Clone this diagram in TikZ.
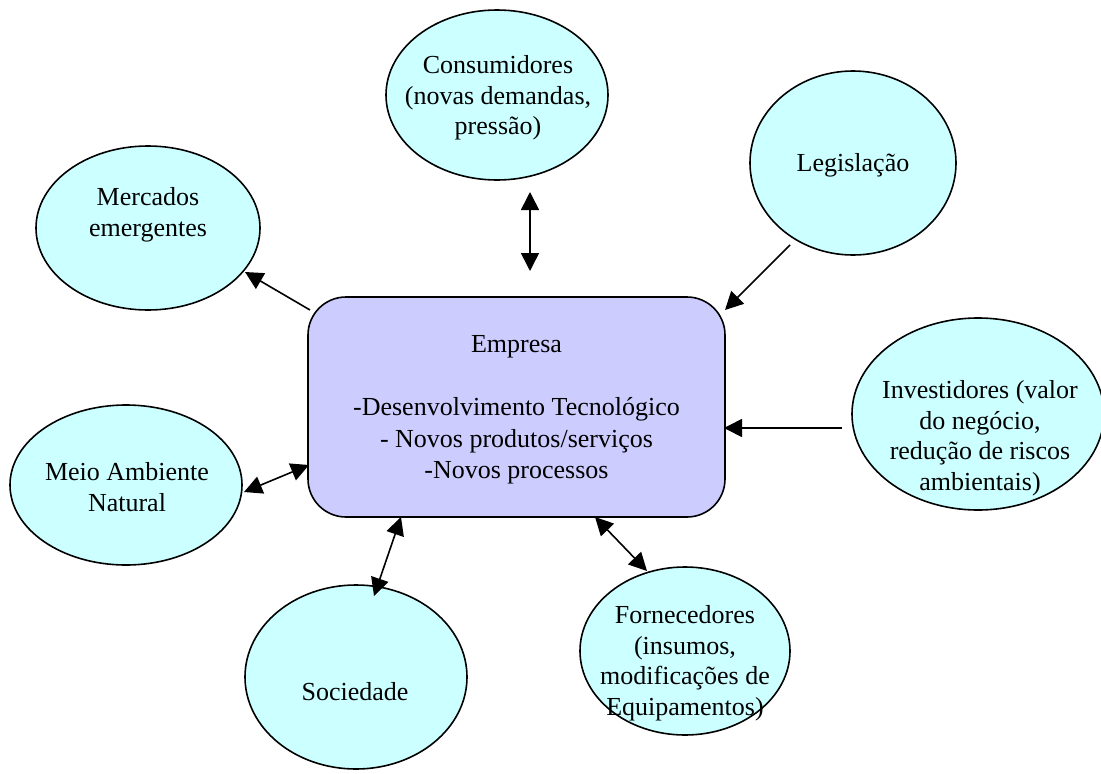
\documentclass[tikz,border=0pt]{standalone}
\usepackage{fontspec}
\setmainfont{Liberation Serif}
\usetikzlibrary{shapes.geometric,arrows.meta}
\definecolor{boxfill}{HTML}{CCCCFF}
\definecolor{ovalfill}{HTML}{CCFFFF}
\begin{document}
\begin{tikzpicture}[x=1pt,y=-1pt,
  oval/.style={ellipse,draw=black,line width=1.6pt,fill=ovalfill,inner sep=0pt},
  txt/.style={align=center,font=\fontsize{26}{30.5}\selectfont,inner sep=0pt},
  link/.style={line width=1.6pt,-{Triangle[length=18pt,width=18pt]}},
  dlink/.style={line width=1.6pt,{Triangle[length=18pt,width=18pt]}-{Triangle[length=18pt,width=18pt]}}]
\useasboundingbox (0,0) rectangle (1101,774);

% central box
\node[draw=black,line width=1.6pt,fill=boxfill,rounded corners=38pt,
      minimum width=417pt,minimum height=220pt,inner sep=0pt] (emp) at (516.5,407) {};
\node[txt,font=\fontsize{26}{31.5}\selectfont] (emptxt) at (516.5,410) {Empresa\\[31.5pt]-Desenvolvimento Tecnológico\\- Novos produtos/serviços\\-Novos processos};

% surrounding ovals
\node[oval,minimum width=222pt,minimum height=170pt] (cons) at (497,95) {};
\node[txt] (constxt) at (498,98) {Consumidores\\(novas demandas,\\pressão)};

\node[oval,minimum width=206pt,minimum height=184pt] (leg) at (853,163) {};
\node[txt] (legtxt) at (853,165) {Legislação};

\node[oval,minimum width=224pt,minimum height=164pt] (merc) at (148,228) {};
\node[txt] (merctxt) at (148,215) {Mercados\\emergentes};

\node[oval,minimum width=252pt,minimum height=192pt] (inv) at (978,414) {};
\node[txt] (invtxt) at (980,438) {Investidores (valor\\do negócio,\\redução de riscos\\ambientais)};

\node[oval,minimum width=232pt,minimum height=160pt] (meio) at (126,485) {};
\node[txt] (meiotxt) at (127,487) {Meio Ambiente\\Natural};

\node[oval,minimum width=222pt,minimum height=184pt] (soc) at (356,677) {};
\node[txt] (soctxt) at (355,692) {Sociedade};

\node[oval,minimum width=210pt,minimum height=168pt] (forn) at (685,651) {};
\node[txt] (forntxt) at (685,663) {Fornecedores\\(insumos,\\modificações de\\Equipamentos)};

% connector end points
\coordinate (mercA) at (310,310);
\coordinate (mercB) at (245,272);
\coordinate (legA) at (790,245);
\coordinate (legB) at (725,310);
\coordinate (consA) at (530,192);
\coordinate (consB) at (530,271);
\coordinate (invA) at (842,428);
\coordinate (invB) at (724,428);
\coordinate (meioA) at (244,492);
\coordinate (meioB) at (309,465);
\coordinate (socA) at (401,517);
\coordinate (socB) at (374,596);
\coordinate (fornA) at (595,517);
\coordinate (fornB) at (647,571);

% connectors
\draw[link] (mercA) -- (mercB);
\draw[link] (legA) -- (legB);
\draw[dlink] (consA) -- (consB);
\draw[link] (invA) -- (invB);
\draw[dlink] (meioA) -- (meioB);
\draw[dlink] (socA) -- (socB);
\draw[dlink] (fornA) -- (fornB);
\end{tikzpicture}
\end{document}
